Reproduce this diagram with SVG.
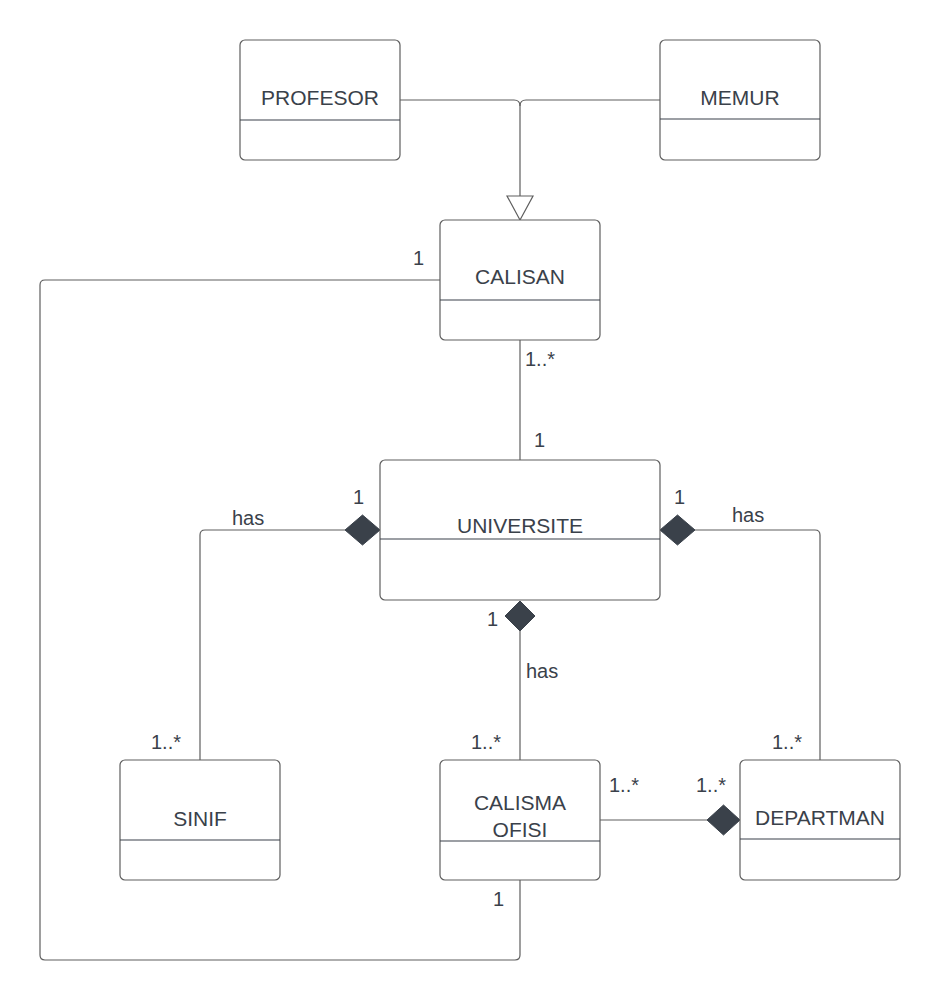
<svg xmlns="http://www.w3.org/2000/svg" width="940" height="1000" viewBox="0 0 940 1000">
<style>
.box{fill:#fff;stroke:#5e5e5e;stroke-width:1.2}
.div{stroke:#3a414a;stroke-width:1.2}
.t{font-family:"Liberation Sans",Arial,sans-serif;font-size:21px;fill:#3a414a;text-anchor:middle}
.l{font-family:"Liberation Sans",Arial,sans-serif;font-size:20px;fill:#3a414a}
.c{fill:none;stroke:#5e5e5e;stroke-width:1.2}
.dia{fill:#3a414a;stroke:#3a414a;stroke-width:1}
</style>
<rect width="940" height="1000" fill="#fff"/>
<g id="connectors">
<path class="c" d="M400,100 H514 Q520,100 520,106 V196"/>
<path class="c" d="M660,100 H526 Q520,100 520,106"/>
<path class="c" fill="#fff" d="M507,196 H533 L520,220 Z" style="fill:#fff"/>
<path class="c" d="M440,280 H45 Q40,280 40,285 V955 Q40,960 45,960 H515 Q520,960 520,955 V880"/>
<path class="c" d="M520,340 V460"/>
<path class="c" d="M345,530 H205 Q200,530 200,535 V760"/>
<polygon class="dia" points="380,530 362.5,515 345,530 362.5,545"/>
<path class="c" d="M695,530 H815 Q820,530 820,535 V760"/>
<polygon class="dia" points="660,530 677.5,515 695,530 677.5,545"/>
<path class="c" d="M520,631 V760"/>
<polygon class="dia" points="520,601 535,616 520,631 505,616"/>
<path class="c" d="M600,820 H707"/>
<polygon class="dia" points="740,820 723.5,805 707,820 723.5,835"/>
<text class="l" x="413" y="265">1</text>
<text class="l" x="525" y="366">1..*</text>
<text class="l" x="534" y="447">1</text>
<text class="l" x="232" y="525">has</text>
<text class="l" x="353" y="504">1</text>
<text class="l" x="674" y="504">1</text>
<text class="l" x="732" y="522">has</text>
<text class="l" x="487" y="626">1</text>
<text class="l" x="526" y="678">has</text>
<text class="l" x="151" y="749">1..*</text>
<text class="l" x="471" y="749">1..*</text>
<text class="l" x="772" y="749">1..*</text>
<text class="l" x="609" y="792">1..*</text>
<text class="l" x="696" y="792">1..*</text>
<text class="l" x="493" y="906">1</text>
</g>
<g id="profesor">
<rect class="box" x="240" y="40" width="160" height="120" rx="5"/>
<line class="div" x1="240" y1="120" x2="400" y2="120"/>
<text class="t" x="320" y="105">PROFESOR</text>
</g>
<g id="memur">
<rect class="box" x="660" y="40" width="160" height="120" rx="5"/>
<line class="div" x1="660" y1="119" x2="820" y2="119"/>
<text class="t" x="740" y="105">MEMUR</text>
</g>
<g id="calisan">
<rect class="box" x="440" y="220" width="160" height="120" rx="5"/>
<line class="div" x1="440" y1="300" x2="600" y2="300"/>
<text class="t" x="520" y="284">CALISAN</text>
</g>
<g id="universite">
<rect class="box" x="380" y="460" width="280" height="140" rx="5"/>
<line class="div" x1="380" y1="539" x2="660" y2="539"/>
<text class="t" x="520" y="533">UNIVERSITE</text>
</g>
<g id="sinif">
<rect class="box" x="120" y="760" width="160" height="120" rx="5"/>
<line class="div" x1="120" y1="840" x2="280" y2="840"/>
<text class="t" x="200" y="826">SINIF</text>
</g>
<g id="calisma-ofisi">
<rect class="box" x="440" y="760" width="160" height="120" rx="5"/>
<line class="div" x1="440" y1="841" x2="600" y2="841"/>
<text class="t" x="520" y="810">CALISMA</text>
<text class="t" x="520" y="837">OFISI</text>
</g>
<g id="departman">
<rect class="box" x="740" y="760" width="160" height="120" rx="5"/>
<line class="div" x1="740" y1="839" x2="900" y2="839"/>
<text class="t" x="820" y="825">DEPARTMAN</text>
</g>
</svg>
